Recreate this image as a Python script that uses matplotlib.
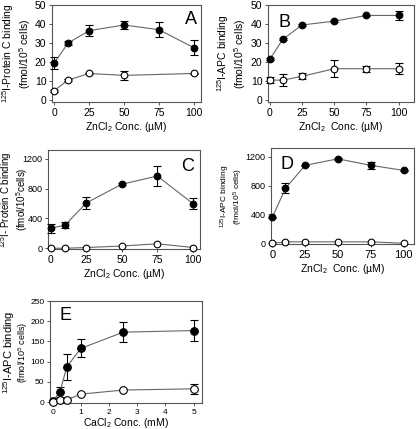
import matplotlib
matplotlib.use("Agg")
import matplotlib.pyplot as plt

plt.rcParams['font.family'] = ['Liberation Sans', 'DejaVu Sans']
plt.rcParams['mathtext.fontset'] = 'custom'
plt.rcParams['mathtext.rm'] = 'Liberation Sans'
plt.rcParams['mathtext.it'] = 'Liberation Sans'

W, H = 416, 429

# ---- data ----
zn_conc = [0, 10, 25, 50, 75, 100]

a_bound = [19.5, 30, 36.5, 39.5, 37, 27.5]
a_bound_err = [3, 1, 3, 2, 4, 4]
a_open_x = [0, 10, 25, 50, 100]
a_open = [5, 10.5, 14, 13, 14]
a_open_err = [0.5, 0.5, 0.5, 2.5, 0.5]

b_bound = [21.5, 32, 39.5, 41.5, 44.5, 44.5]
b_bound_err = [0.5, 0.5, 0.5, 0.5, 0.5, 2.5]
b_open = [10.5, 10.5, 12.5, 16.5, 16.5, 16.5]
b_open_err = [1.5, 3, 1.5, 4.5, 1.5, 3]

c_bound = [270, 310, 610, 860, 970, 600]
c_bound_err = [60, 40, 80, 10, 130, 70]
c_open = [0, 0, 10, 30, 60, 10]

d_bound = [360, 760, 1080, 1170, 1080, 1010]
d_bound_err = [10, 70, 10, 10, 50, 10]
d_open = [0, 20, 20, 20, 20, 0]

ca_conc = [0, 0.25, 0.5, 1, 2.5, 5]
e_bound = [2, 25, 88, 133, 173, 177]
e_bound_err = [1, 12, 32, 22, 25, 27]
e_open = [0, 5, 6, 20, 30, 33]
e_open_err = [0.5, 0.5, 0.5, 0.5, 0.5, 12]

fig = plt.figure(figsize=(W / 100, H / 100), dpi=100)


def make_ax(x0, y0, x1, y1):
    # pixel box -> figure fraction
    return fig.add_axes([x0 / W, 1 - y1 / H, (x1 - x0) / W, (y1 - y0) / H])


def style(ax, letter, lx, ly, xsize=7.5, ysize=7.5):
    for s in ax.spines.values():
        s.set_color('#555555')
        s.set_linewidth(0.8)
    ax.tick_params(direction='out', length=2.5, width=0.7, pad=1.5,
                   color='#555555')
    ax.tick_params(axis='x', labelsize=xsize)
    ax.tick_params(axis='y', labelsize=ysize)
    ax.text(lx, ly, letter, transform=ax.transAxes, fontsize=13,
            ha='center', va='center')


def ylab(ax, xs, lines, sizes):
    # two-line y label, each line its own size (as in the original figure)
    b = ax.get_position()
    yc = b.y0 + b.height / 2
    for x, txt, fs in zip(xs, lines, sizes):
        fig.text(x / W, yc, txt, rotation=90, ha='center', va='center',
                 fontsize=fs)


def series(ax, x, y, yerr, filled, ms=4.8):
    ax.errorbar(x, y, yerr=yerr, fmt='-o', color='#666666', lw=0.8,
                ecolor='black', elinewidth=0.8, capsize=3, capthick=0.8,
                ms=ms, mfc='black' if filled else 'white', mec='black',
                mew=0.8, clip_on=False, zorder=3)


# A
ax = make_ax(52, 5, 201, 102)
series(ax, zn_conc, a_bound, a_bound_err, True)
series(ax, a_open_x, a_open, a_open_err, False)
ax.set_xlim(-1.5, 105)
ax.set_ylim(-1, 50)
ax.set_xticks([0, 25, 50, 75, 100])
ax.set_yticks([0, 10, 20, 30, 40, 50])
ax.set_xlabel('ZnCl$_2$ Conc. (µM)', fontsize=7.5, labelpad=2)
ylab(ax, [8, 25], ['$^{125}$I-Protein C binding', '(fmol/10$^5$ cells)'],
     [7.5, 7.5])
style(ax, 'A', 0.93, 0.85)

# B
ax = make_ax(268, 5, 414, 102)
series(ax, zn_conc, b_bound, b_bound_err, True)
series(ax, zn_conc, b_open, b_open_err, False)
ax.set_xlim(-1.5, 112)
ax.set_ylim(-1, 50)
ax.set_xticks([0, 25, 50, 75, 100])
ax.set_yticks([0, 10, 20, 30, 40, 50])
ax.set_xlabel('ZnCl$_2$  Conc. (µM)', fontsize=7.5, labelpad=2)
ylab(ax, [223, 240], ['$^{125}$I-APC binding', '(fmol/10$^5$ cells)'],
     [7.5, 7.5])
style(ax, 'B', 0.11, 0.82)

# C
ax = make_ax(48, 150, 200, 249)
series(ax, zn_conc, c_bound, c_bound_err, True)
series(ax, zn_conc, c_open, None, False)
ax.set_xlim(-2, 105)
ax.set_ylim(-10, 1320)
ax.set_xticks([0, 25, 50, 75, 100])
ax.set_yticks([0, 400, 800, 1200])
ax.set_xlabel('ZnCl$_2$ Conc. (µM)', fontsize=7.5, labelpad=2)
ylab(ax, [6, 22], ['$^{125}$I- Protein C binding', '(fmol/10$^5$cells)'],
     [7, 7])
style(ax, 'C', 0.92, 0.83, ysize=6.5)

# D
ax = make_ax(271, 148, 414, 244)
series(ax, zn_conc, d_bound, d_bound_err, True)
series(ax, zn_conc, d_open, None, False)
ax.set_xlim(-1, 108)
ax.set_ylim(-10, 1320)
ax.set_xticks([0, 25, 50, 75, 100])
ax.set_yticks([0, 400, 800, 1200])
ax.set_xlabel('ZnCl$_2$  Conc. (µM)', fontsize=7.5, labelpad=2)
ylab(ax, [225, 238], ['$^{125}$I-APC binding', '(fmol/10$^5$ cells)'],
     [6, 6])
style(ax, 'D', 0.11, 0.83, xsize=8, ysize=6.5)

# E
ax = make_ax(50, 301, 202, 403)
series(ax, ca_conc, e_bound, e_bound_err, True, ms=5.5)
series(ax, ca_conc, e_open, e_open_err, False, ms=5.5)
ax.set_xlim(-0.1, 5.3)
ax.set_ylim(-2, 250)
ax.set_xticks([0, 1, 2, 3, 4, 5])
ax.set_yticks([0, 50, 100, 150, 200, 250])
ax.set_xlabel('CaCl$_2$ Conc. (mM)', fontsize=7.5, labelpad=0.5)
ylab(ax, [9, 23], ['$^{125}$I-APC binding', '(fmol/10$^5$ cells)'],
     [8, 6.5])
style(ax, 'E', 0.1, 0.86, xsize=6, ysize=6)

fig.savefig('out.png', dpi=100)
